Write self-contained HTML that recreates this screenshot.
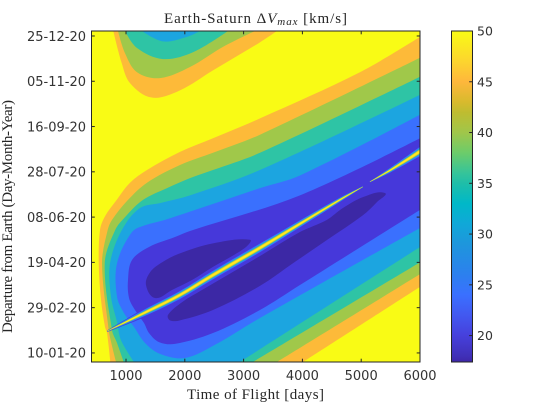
<!DOCTYPE html>
<html>
<head>
<meta charset="utf-8">
<title>Earth-Saturn porkchop</title>
<style>
html,body{margin:0;padding:0;background:#fff;width:542px;height:407px;overflow:hidden}
svg{display:block}
.tick{font-family:"DejaVu Sans",sans-serif;font-size:13px;fill:#333}
.cb{font-family:"DejaVu Sans",sans-serif;font-size:12.5px;fill:#333}
.tex{font-family:"Liberation Serif",serif;fill:#262626}
</style>
</head>
<body>
<svg id="chart" xmlns="http://www.w3.org/2000/svg" width="542" height="407" viewBox="0 0 542 407">
  <defs>
    <clipPath id="plot-clip"><rect x="91.5" y="31" width="328.5" height="331"></rect></clipPath>
    <linearGradient id="cb-grad" x1="0" y1="1" x2="0" y2="0"></linearGradient>
  </defs>
  <rect x="91.5" y="31" width="328.5" height="331" fill="#f9fb15"></rect>
  <g id="bands" clip-path="url(#plot-clip)"></g>
  <rect x="91.5" y="31" width="328.5" height="331" fill="none" stroke="#262626" stroke-width="1"></rect>
  <g id="axes"></g>
  <rect x="451.5" y="31" width="21" height="331" fill="url(#cb-grad)" stroke="#262626" stroke-width="1"></rect>
  <g id="cbticks"></g>
  <text class="tex" x="164" y="23" font-size="15" textLength="183" lengthAdjust="spacing">Earth-Saturn Δ<tspan font-style="italic">V</tspan><tspan font-style="italic" font-size="11" dy="2">max</tspan><tspan dy="-2"> [km/s]</tspan></text>
  <text class="tex" x="187" y="399" font-size="15" textLength="137" lengthAdjust="spacing">Time of Flight [days]</text>
  <text class="tex" transform="translate(12,333) rotate(-90)" font-size="15" textLength="233" lengthAdjust="spacing">Departure from Earth (Day-Month-Year)</text>
</svg>
<script>
// Axis tick data
var xTicks = [1000, 2000, 3000, 4000, 5000, 6000];
var yTickDays = [10, 60, 110, 160, 210, 260, 310, 360];
var yTickLabels = ["10-01-20", "29-02-20", "19-04-20", "08-06-20", "28-07-20", "16-09-20", "05-11-20", "25-12-20"];
var cbTicks = [20, 25, 30, 35, 40, 45, 50];

// Contour boundaries: [time of flight (days), departure (day of 2020)]
var level45 = [[733,0],[677,32],[643,38.6],[575,68.4],[536,109],[558,146],[643,161],[842,179],[1068,198],[1357,212],[1918,232],[2479,247],[3278,269],[4978,320],[6000,359],[6000,83],[4009,0]];
var level40 = [[830,0],[750,21],[706,35],[592,109],[689,146],[762,157],[1034,179],[1357,198],[1918,217.5],[2479,231],[3278,251],[6000,336],[6000,97],[3567,0]];
var level35 = [[961,0],[847,21],[762,35],[638,109],[818,146],[983,160],[1289,179],[1697,192],[2088,203],[2479,212],[3278,231],[6000,315],[6000,110],[3159,0]];
var level30 = [[1136,0],[915,24],[847,44],[745,72],[728,109],[932,146],[1238,170],[1578,175.5],[2088,184],[3278,212],[6000,295],[6000,127],[2938,0]];
var level25 = [[1136,38.6],[1323,21],[1578,9],[2003,4.4],[2513,19],[3278,48.6],[6000,148],[6000,273],[3958,206],[3278,192],[2088,166],[1663,157],[1323,151],[1102,143.5],[847,109],[847,72],[966,54]];
var level20 = [[1051,70.7],[1034,90.5],[1102,112.6],[1391,127],[1833,138],[2088,144.6],[3958,184],[6000,247],[6000,168],[3958,85],[3278,57.4],[2479,32],[1833,20],[1561,22],[1391,32],[1306,43],[1153,57.4]];
var level17Upper = [[1340,85],[1408,99],[1612,110],[1918,120],[2479,131],[3108,135],[3023,126],[2479,105],[2122,90.5],[1782,79.5],[1493,70.7]];
var level17Lower = [[1714,52],[1952,66],[2292,79.5],[3278,117],[3958,143.5],[4417,157],[4689,170],[5029,182],[5403,186.6],[5267,176.6],[5029,162],[4417,134.7],[3839,109],[3278,84],[2479,57.4],[1918,46],[1748,46]];
var top45 = [[784,365.5],[927,330],[1068,308],[1437,292],[1918,300],[2479,322],[3278,353],[3567,365.5]];
var top40 = [[864,365.5],[983,341],[1187,320],[1578,313.5],[2088,325.7],[2649,348],[3193,365.5]];
var top35 = [[983,365.5],[1187,346.7],[1629,334.5],[2139,342],[2734,365.5]];
var top30 = [[1272,365.5],[1629,354],[2037,359],[2258,365.5]];

// Ridge of the discontinuity: centre line and half width (days)
var ridgeA = [[677,34],[1352,55.5],[1918,74],[2479,96],[3278,126],[3958,152.6],[4672,180.4],[5029,193.5]];
var ridgeAWidth = [0.6,3.8,4.4,4.8,4.8,3.8,2.2,0.4];
var ridgeB = [[5148,199],[5500,212],[6000,232.5]];
var ridgeBWidth = [0.4,2.6,5.2];

// Colormap: value and colour
var cmapValues = [17.4,18,20,22,24,26,29,31,33,35,36,38,40,42,43,45,47,50];
var cmapColors = ["#3e26a8","#4030b8","#4640dc","#4258f0","#3a70ff","#2c80ee","#1e96dc","#10a8d8","#00b8c8","#1fbea8","#35c49a","#6ccc6a","#a0c64a","#bfbc30","#d8ba2d","#feb73c","#fcd52e","#f9fb15"];

var NS = "http://www.w3.org/2000/svg";
function xScale(t){ return 91.5 + (t - 413) * (328.5 / 5587); }
function yScale(d){ return 362 - d * (331 / 365.5); }
function cbScale(v){ return 362 - (v - 17.4) * (331 / 32.6); }

var bands = document.getElementById("bands");
function isEdgePoint(p){ return p[0] >= 6000 || p[1] <= 0 || p[1] >= 365; }
// Closed smooth outline; points on the axes limits stay sharp corners.
function smoothPath(pts, cornerAt){
  var q = pts.map(function(p){ return [xScale(p[0]), yScale(p[1])]; });
  var n = q.length;
  function tangent(i){
    if (cornerAt(i)) { return [0, 0]; }
    var a = q[(i + n - 1) % n], b = q[(i + 1) % n];
    var dx = b[0] - a[0], dy = b[1] - a[1], len = Math.sqrt(dx * dx + dy * dy) || 1;
    return [dx / len, dy / len];
  }
  var d = "M" + q[0][0].toFixed(2) + " " + q[0][1].toFixed(2);
  for (var i = 0; i < n; i++) {
    var j = (i + 1) % n;
    var seg = Math.sqrt(Math.pow(q[j][0] - q[i][0], 2) + Math.pow(q[j][1] - q[i][1], 2)) / 3;
    var t0 = tangent(i), t1 = tangent(j);
    d += "C" + (q[i][0] + t0[0] * seg).toFixed(2) + " " + (q[i][1] + t0[1] * seg).toFixed(2) + " " +
         (q[j][0] - t1[0] * seg).toFixed(2) + " " + (q[j][1] - t1[1] * seg).toFixed(2) + " " +
         q[j][0].toFixed(2) + " " + q[j][1].toFixed(2);
  }
  return d + "Z";
}
function addBand(pts, color, name, cornerAt){
  var el = document.createElementNS(NS, "path");
  el.setAttribute("d", smoothPath(pts, cornerAt || function(i){ return isEdgePoint(pts[i]); }));
  el.setAttribute("fill", color);
  
  
  bands.appendChild(el);
}
addBand(level45, "#fdba39", "band-45");
addBand(level40, "#a0c84a", "band-40");
addBand(level35, "#2ec4a5", "band-35");
addBand(level30, "#1ca5e0", "band-30");
addBand(level25, "#3a70fe", "band-25");
addBand(level20, "#4638da", "band-20");
addBand(level17Upper, "#3c28a5", "band-17-upper");
addBand(level17Lower, "#3c28a5", "band-17-lower");
addBand(top45, "#fdba39", "top-band-45");
addBand(top40, "#a0c84a", "top-band-40");
addBand(top35, "#2ec4a5", "top-band-35");
addBand(top30, "#1ca5e0", "top-band-30");

var ridgeColors = ["#4638da","#3a70fe","#1ca5e0","#2ec4a5","#a0c84a","#fdba39","#f9fb15"];
var ridgeFactors = [1.35,1.0,0.74,0.6,0.48,0.38,0.2];
function addRidge(line, widths){
  var m = line.length;
  function ridgeCorner(i){ return i === 0 || i === m - 1 || i === m || i === 2 * m - 1; }
  ridgeColors.forEach(function(color, i){
    var upper = line.map(function(p, k){ return [p[0], p[1] + widths[k] * ridgeFactors[i]]; });
    var lower = line.map(function(p, k){ return [p[0], p[1] - widths[k] * ridgeFactors[i]]; }).reverse();
    addBand(upper.concat(lower), color, "ridge-layer", ridgeCorner);
  });
}
addRidge(ridgeA, ridgeAWidth);
addRidge(ridgeB, ridgeBWidth);

var axes = document.getElementById("axes");
function addTick(x1, y1, x2, y2, parent, name){
  var el = document.createElementNS(NS, "line");
  el.setAttribute("x1", x1);
  el.setAttribute("y1", y1);
  el.setAttribute("x2", x2);
  el.setAttribute("y2", y2);
  el.setAttribute("stroke", "#262626");
  el.setAttribute("stroke-width", "1");
  
  
  parent.appendChild(el);
}
function addLabel(x, y, str, cls, anchor, parent, name){
  var el = document.createElementNS(NS, "text");
  el.setAttribute("x", x);
  el.setAttribute("y", y);
  el.setAttribute("class", cls);
  el.setAttribute("text-anchor", anchor);
  
  
  el.textContent = str;
  parent.appendChild(el);
}
xTicks.forEach(function(t){
  var x = xScale(t);
  addTick(x, 362, x, 358.7, axes, "x-tick");
  addTick(x, 31, x, 34.3, axes, "x-tick-top");
  addLabel(x, 380, String(t), "tick", "middle", axes, "x-tick-label");
});
yTickDays.forEach(function(d, i){
  var y = yScale(d);
  addTick(91.5, y, 94.8, y, axes, "y-tick");
  addTick(420, y, 416.7, y, axes, "y-tick-right");
  addLabel(86, y + 4.8, yTickLabels[i], "tick", "end", axes, "y-tick-label");
});

var grad = document.getElementById("cb-grad");
cmapValues.forEach(function(v, i){
  var s = document.createElementNS(NS, "stop");
  s.setAttribute("offset", ((v - 17.4) / 32.6).toFixed(4));
  s.setAttribute("stop-color", cmapColors[i]);
  grad.appendChild(s);
});
var cbticks = document.getElementById("cbticks");
cbTicks.forEach(function(v){
  var y = cbScale(v);
  if (v < 50) { addTick(472.5, y, 469.2, y, cbticks, "colorbar-tick"); }
  addLabel(477, y + 4.6, String(v), "cb", "start", cbticks, "colorbar-tick-label");
});
</script>
</body>
</html>
